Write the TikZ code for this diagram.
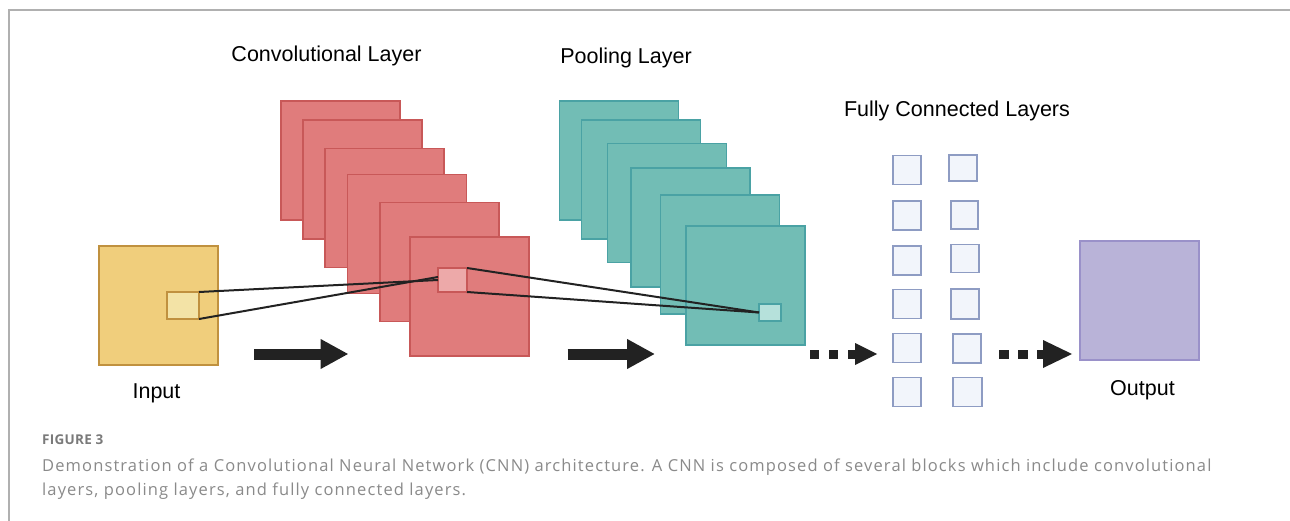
\documentclass[tikz,border=0pt]{standalone}
\usepackage{fontspec}
\setmainfont{Liberation Sans}
\newfontfamily\capfont[LetterSpace=6.8]{Open Sans}
\newfontfamily\figfont[LetterSpace=2]{Open Sans}
\usetikzlibrary{arrows.meta}
\definecolor{convfill}{HTML}{E07C7C}
\definecolor{convdraw}{HTML}{C85858}
\definecolor{convsmall}{HTML}{EDA9A9}
\definecolor{poolfill}{HTML}{72BDB5}
\definecolor{pooldraw}{HTML}{4AA2A4}
\definecolor{poolsmall}{HTML}{B6E1DB}
\definecolor{infill}{HTML}{F0CE7C}
\definecolor{indraw}{HTML}{C0913F}
\definecolor{insmall}{HTML}{F3E3A6}
\definecolor{outfill}{HTML}{B9B3D8}
\definecolor{outdraw}{HTML}{9A91C9}
\definecolor{fcfill}{HTML}{F2F5FB}
\definecolor{fcdraw}{HTML}{8E9CC3}
\definecolor{arrowcol}{HTML}{222222}
\definecolor{framecol}{HTML}{B0B0B0}
\definecolor{capcol}{HTML}{8A8A8A}
\definecolor{figcol}{HTML}{7A7A7A}
\begin{document}
\begin{tikzpicture}[x=1pt,y=-1pt,
  sq/.style={rectangle, inner sep=0pt, outer sep=0pt, line width=1.8pt, minimum width=119pt, minimum height=119pt},
  convbox/.style={sq, fill=convfill, draw=convdraw},
  poolbox/.style={sq, fill=poolfill, draw=pooldraw},
  inbox/.style={sq, fill=infill, draw=indraw},
  outbox/.style={sq, fill=outfill, draw=outdraw},
  fcbox/.style={rectangle, inner sep=0pt, outer sep=0pt, line width=1.8pt, fill=fcfill, draw=fcdraw},
  smallbox/.style={rectangle, inner sep=0pt, outer sep=0pt, line width=1.5pt},
  link/.style={draw=arrowcol, line width=2pt},
  bigarrow/.style={draw=arrowcol, line width=11pt, line cap=butt, -{Triangle[length=28pt,width=28pt]}},
  dotarrow/.style={draw=arrowcol, line width=9pt, line cap=butt, dash pattern=on 9pt off 10pt},
  lbl/.style={font=\fontsize{21.5}{24}\selectfont, anchor=base, inner sep=0pt, text=black},
  captext/.style={font=\capfont\fontsize{16.5}{20}\selectfont, anchor=base west, inner sep=0pt, text=capcol}
]
\useasboundingbox (0,0) rectangle (1290,521);
\fill[white] (0,0) rectangle (1290,521);
% frame
\draw[framecol, line width=1.5pt] (9,521) -- (9,10) -- (1290,10);

% input
\node[inbox] (in) at (158.5,305.5) {};
\node[smallbox, fill=insmall, draw=indraw, minimum width=32pt, minimum height=27pt] (ins) at (183,305.5) {};

% conv layers
\node[convbox] (c1) at (340.5,160.5) {};
\node[convbox] (c2) at (362.5,179.5) {};
\node[convbox] (c3) at (384.5,208) {};
\node[convbox] (c4) at (407,234) {};
\node[convbox] (c5) at (439.5,262) {};
\node[convbox] (c6) at (469.5,296.5) {};
\node[smallbox, fill=convsmall, draw=convdraw, minimum width=29pt, minimum height=24pt] (cs) at (452.5,280) {};

% pooling layers
\node[poolbox] (p1) at (619,160.5) {};
\node[poolbox] (p2) at (641,179.5) {};
\node[poolbox] (p3) at (667,203) {};
\node[poolbox] (p4) at (690.5,227.5) {};
\node[poolbox] (p5) at (720,254.5) {};
\node[poolbox] (p6) at (745.5,285.5) {};
\node[smallbox, fill=poolsmall, draw=pooldraw, minimum width=22pt, minimum height=17pt] (ps) at (770,312.5) {};

% connectors
\draw[link] (ins.north east) -- ([yshift=0pt]cs.west);
\draw[link] (ins.south east) -- ([yshift=3pt]cs.west);
\draw[link] (cs.north east) -- (ps.west);
\draw[link] (cs.south east) -- (ps.west);

% fully connected
\node[fcbox, minimum width=28pt, minimum height=29pt] (f11) at (907,170) {};
\node[fcbox, minimum width=28pt, minimum height=29pt] (f12) at (907,215.5) {};
\node[fcbox, minimum width=28pt, minimum height=29pt] (f13) at (907,260.5) {};
\node[fcbox, minimum width=28pt, minimum height=29pt] (f14) at (907,304) {};
\node[fcbox, minimum width=28pt, minimum height=29pt] (f15) at (907,348) {};
\node[fcbox, minimum width=28pt, minimum height=29pt] (f16) at (907,392) {};
\node[fcbox, minimum width=28pt, minimum height=26pt] (f21) at (963,168) {};
\node[fcbox, minimum width=27pt, minimum height=28pt] (f22) at (964.5,215) {};
\node[fcbox, minimum width=28pt, minimum height=28pt] (f23) at (965,258.5) {};
\node[fcbox, minimum width=28pt, minimum height=30pt] (f24) at (965,304) {};
\node[fcbox, minimum width=28pt, minimum height=29pt] (f25) at (967,348.5) {};
\node[fcbox, minimum width=29pt, minimum height=29pt] (f26) at (967.5,392) {};

% output
\node[outbox] (out) at (1139.5,300.5) {};

% arrows
\coordinate (a1s) at (254,354); \coordinate (a1e) at (348.5,354);
\coordinate (a2s) at (567.5,354); \coordinate (a2e) at (655,354);
\draw[bigarrow] (a1s) -- (a1e);
\draw[bigarrow] (a2s) -- (a2e);
\coordinate (d1s) at (810,354); \coordinate (d1e) at (877,354);
\coordinate (d2s) at (999,354); \coordinate (d2e) at (1072,354);
\draw[dotarrow] (d1s) -- (855,354);
\fill[arrowcol] (855,343) -- (d1e) -- (855,365) -- cycle;
\draw[dotarrow, dash pattern=on 9.5pt off 9.5pt] (d2s) -- (1043,354);
\fill[arrowcol] (1043,340) -- (d2e) -- (1043,368) -- cycle;

% labels
\node[lbl] (tconv) at (326.5,62) {Convolutional Layer};
\node[lbl] (tpool) at (626,64) {Pooling Layer};
\node[lbl] (tfc) at (957,117) {Fully Connected Layers};
\node[lbl] (tin) at (156.5,398) {Input};
\node[lbl] (tout) at (1142.5,395) {Output};

% caption
\node[captext, font=\figfont\bfseries\fontsize{13.5}{16}\selectfont, text=figcol] (fig) at (42,444.5) {FIGURE 3};
\node[captext] (c1l) at (42,471.5) {Demonstration of a Convolutional Neural Network (CNN) architecture. A CNN is composed of several blocks which include convolutional};
\node[captext] (c2l) at (42,495) {layers, pooling layers, and fully connected layers.};
\end{tikzpicture}
\end{document}
